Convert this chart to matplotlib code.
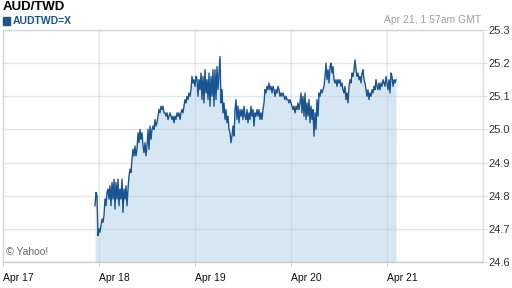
import matplotlib
matplotlib.use("Agg")
import matplotlib.pyplot as plt
import matplotlib.dates as mdates
import pandas as pd
import numpy as np

plt.rcParams['font.family'] = ['Liberation Sans', 'DejaVu Sans']

title = "AUD/TWD"
series_name = "AUDTWD=X"
stamp = "Apr 21, 1:57am GMT"
credit = "\u00a9 Yahoo!"
start_time = "2014-04-17 23:00"
step = "15min"
x_start = "2014-04-17"
x_end = "2014-04-22"
day_ticks = ["2014-04-17", "2014-04-18", "2014-04-19", "2014-04-20", "2014-04-21"]
day_labels = ["Apr 17", "Apr 18", "Apr 19", "Apr 20", "Apr 21"]
y_ticks = [24.6, 24.7, 24.8, 24.9, 25.0, 25.1, 25.2, 25.3]

rates = [
    24.77, 24.81, 24.80, 24.68, 24.70, 24.69, 24.71, 24.73, 24.72, 24.74,
    24.79, 24.77, 24.81, 24.82, 24.79, 24.83, 24.77, 24.84, 24.79, 24.85,
    24.76, 24.84, 24.79, 24.85, 24.77, 24.82, 24.79, 24.85, 24.75, 24.82,
    24.79, 24.83, 24.77, 24.82, 24.86, 24.88, 24.87, 24.91, 24.94, 24.92,
    24.95, 24.92, 24.94, 24.99, 24.96, 25.00, 24.97, 24.99, 24.95, 24.93,
    24.96, 24.92, 24.95, 25.00, 24.94, 25.01, 24.97, 25.00, 25.01, 25.00,
    25.03, 25.01, 25.02, 25.04, 25.06, 25.05, 25.07, 25.06, 25.07, 25.05,
    25.05, 25.04, 25.05, 25.03, 25.04, 25.05, 25.04, 25.03, 25.04, 25.02,
    25.04, 25.03, 25.05, 25.04, 25.05, 25.03, 25.05, 25.06, 25.05, 25.07,
    25.09, 25.08, 25.10, 25.09, 25.11, 25.10, 25.12, 25.16, 25.14, 25.15,
    25.13, 25.16, 25.15, 25.10, 25.15, 25.12, 25.17, 25.09, 25.16, 25.08,
    25.18, 25.11, 25.15, 25.09, 25.17, 25.07, 25.16, 25.10, 25.18, 25.07,
    25.18, 25.09, 25.19, 25.12, 25.17, 25.22, 25.08, 25.12, 25.05, 25.08,
    25.03, 25.06, 25.02, 25.04, 25.00, 24.99, 24.96, 24.98, 25.01, 24.98,
    25.06, 25.09, 25.03, 25.07, 25.02, 25.06, 25.04, 25.06, 25.03, 25.07,
    25.04, 25.03, 25.06, 25.02, 25.05, 25.03, 25.07, 25.04, 25.06, 25.01,
    25.05, 25.04, 25.06, 25.04, 25.06, 25.03, 25.05, 25.03, 25.06, 25.08,
    25.12, 25.11, 25.13, 25.12, 25.14, 25.12, 25.13, 25.11, 25.13, 25.12,
    25.10, 25.12, 25.11, 25.13, 25.12, 25.10, 25.11, 25.10, 25.11, 25.10,
    25.09, 25.10, 25.09, 25.09, 25.08, 25.09, 25.08, 25.07, 25.06, 25.07,
    25.05, 25.07, 25.06, 25.08, 25.06, 25.08, 25.11, 25.05, 25.10, 25.04,
    25.11, 25.03, 25.08, 25.04, 25.09, 25.02, 25.07, 25.03, 25.06, 24.98,
    25.05, 25.00, 25.09, 25.04, 25.11, 25.10, 25.12, 25.11, 25.12, 25.13,
    25.16, 25.20, 25.15, 25.18, 25.14, 25.19, 25.20, 25.17, 25.19, 25.15,
    25.14, 25.15, 25.13, 25.15, 25.14, 25.15, 25.13, 25.14, 25.12, 25.11,
    25.13, 25.09, 25.11, 25.08, 25.13, 25.15, 25.14, 25.17, 25.16, 25.18,
    25.21, 25.18, 25.16, 25.17, 25.15, 25.16, 25.14, 25.17, 25.18, 25.15,
    25.14, 25.12, 25.10, 25.12, 25.09, 25.11, 25.10, 25.12, 25.11, 25.13,
    25.12, 25.15, 25.13, 25.12, 25.14, 25.12, 25.14, 25.13, 25.15, 25.14,
    25.13, 25.16, 25.14, 25.12, 25.15, 25.11, 25.17, 25.16, 25.13, 25.15,
    25.14, 25.15,
]

times = pd.date_range(start=start_time, periods=len(rates), freq=step)

W, H = 512, 288
fig = plt.figure(figsize=(W / 100, H / 100), dpi=100)
ax = fig.add_axes([3 / W, (H - 262) / H, (483 - 3) / W, (262 - 30) / H])

line_color = "#1b5591"
fill_color = "#d6e6f2"

ax.fill_between(times, rates, 24.6, color=fill_color, linewidth=0, zorder=1)
ax.plot(times, rates, color=line_color, linewidth=1.0, zorder=3)

ax.set_xlim(pd.Timestamp(x_start), pd.Timestamp(x_end))
ax.set_ylim(y_ticks[0], y_ticks[-1])

ax.set_axisbelow(False)
ax.grid(True, color="#c4cfd9", alpha=0.5, linewidth=1, zorder=2)

ax.set_xticks([pd.Timestamp(d) for d in day_ticks])
ax.set_xticklabels(day_labels)
for lab in ax.get_xticklabels():
    lab.set_horizontalalignment("left")
ax.tick_params(axis="x", length=3, color="#cccccc", labelsize=7.5, labelcolor="#111111", pad=5)

ax.yaxis.tick_right()
ax.set_yticks(y_ticks)
ax.set_yticklabels([f"{v:.1f}" for v in y_ticks])
ax.tick_params(axis="y", length=3, color="#dddddd", labelsize=8, labelcolor="#333333", pad=1)

for side in ["left", "top", "right"]:
    ax.spines[side].set_color("#e0e0e0")
    ax.spines[side].set_linewidth(1)
ax.spines["bottom"].set_color("#cccccc")
ax.spines["bottom"].set_linewidth(1)

fig.text(3 / W, 1 - 7 / H, title, fontsize=9.5, fontweight="bold", color="#000000",
         ha="left", va="center")
fig.patches.append(plt.Rectangle((3 / W, 1 - 24.5 / H), 6.5 / W, 7 / H,
                                 transform=fig.transFigure, color=line_color))
fig.text(13 / W, 1 - 20.5 / H, series_name, fontsize=7.5, fontweight="bold", color=line_color,
         ha="left", va="center")
fig.text(481 / W, 1 - 20 / H, stamp, fontsize=7.5, color="#a0a0a0", ha="right", va="center")
fig.text(6 / W, 1 - 252 / H, credit, fontsize=7.5, color="#666666", ha="left", va="center")

fig.savefig("out.png", dpi=100)
